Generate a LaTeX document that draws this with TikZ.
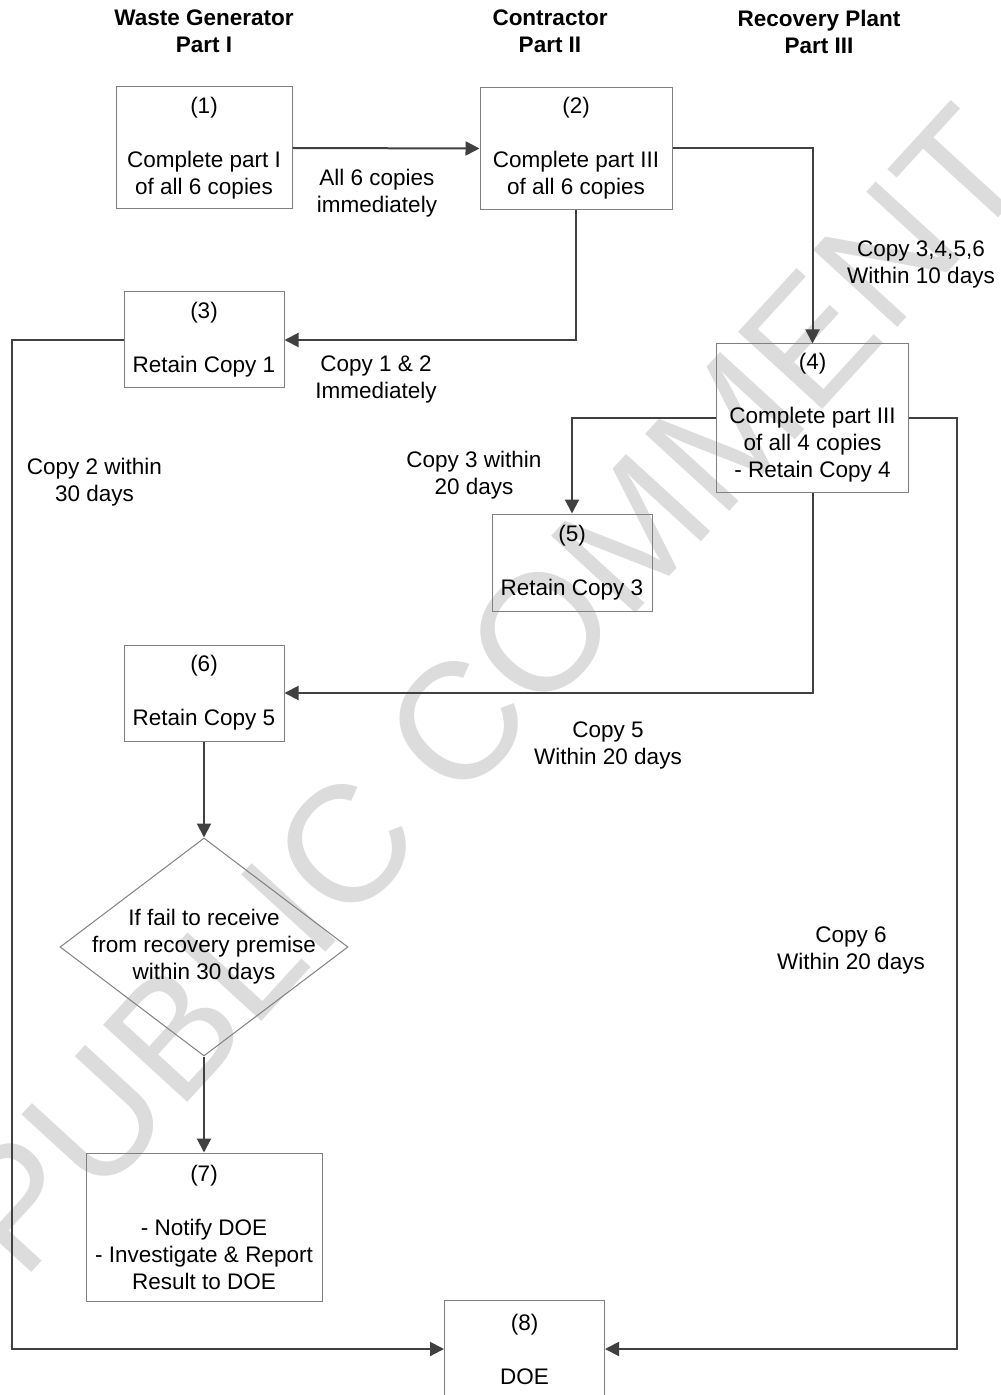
\documentclass[tikz,border=0pt]{standalone}
\usepackage{fontspec}
\setmainfont{Liberation Sans}
\usetikzlibrary{arrows.meta, positioning, shapes.geometric}
\definecolor{boxgray}{HTML}{808080}
\definecolor{linegray}{HTML}{404040}
\definecolor{markgray}{HTML}{DCDCDC}
\newcommand{\flowfont}{\fontsize{11.25pt}{13.5pt}\selectfont}

\begin{document}
\begin{tikzpicture}[x=0.5pt, y=-0.5pt,
  stepbox/.style={draw=boxgray, line width=0.5pt, align=center, inner sep=0pt, font=\flowfont},
  decision/.style={diamond, draw=boxgray, line width=0.5pt, inner sep=0pt,
    minimum width=144pt, minimum height=109pt},
  note/.style={align=center, inner sep=0pt, font=\flowfont},
  header/.style={align=center, inner sep=0pt, font=\flowfont\bfseries},
  flow/.style={draw=linegray, line width=1pt, -{Triangle[length=7pt, width=7pt]}}]
\useasboundingbox (0,0) rectangle (1000,1395);
\clip (0,0) rectangle (1000,1395);

% watermark
\node[text=markgray, font=\fontsize{83pt}{90pt}\selectfont, rotate=47.5, inner sep=0pt]
  (mark) at (488,690) {PUBLIC COMMENT};

% column headers
\node[header] (hgen) at (204,31.5) {Waste Generator\\Part I};
\node[header] (hcon) at (550,31.5) {Contractor\\Part II};
\node[header] (hrec) at (819,31.5) {Recovery Plant\\Part III};

% steps
\node[stepbox, minimum width=88pt, minimum height=61pt] (b1) at (204,148)
  {(1)\\[13.5pt]Complete part I\\of all 6 copies};
\node[stepbox, minimum width=96pt, minimum height=61pt] (b2) at (576,148.5)
  {(2)\\[13.5pt]Complete part III\\of all 6 copies};
\node[stepbox, minimum width=80pt, minimum height=48pt] (b3) at (204,340)
  {(3)\\[13.5pt]Retain Copy 1};
\node[stepbox, minimum width=96pt, minimum height=74pt] (b4) at (812.5,418)
  {(4)\\[13.5pt]Complete part III\\of all 4 copies\\- Retain Copy 4};
\node[stepbox, minimum width=80pt, minimum height=48.5pt] (b5) at (572,562.5)
  {(5)\\[13.5pt]Retain Copy 3};
\node[stepbox, minimum width=80pt, minimum height=48pt] (b6) at (204,693)
  {(6)\\[13.5pt]Retain Copy 5};
\node[decision] (chk) at (204,947) {};
\node[note] (chktext) at (chk.center) {If fail to receive\\from recovery premise\\within 30 days};
\node[stepbox, minimum width=118pt, minimum height=74pt] (b7) at (204,1227)
  {(7)\\[13.5pt]- Notify DOE\\- Investigate \& Report\\Result to DOE};
\node[stepbox, minimum width=80pt, minimum height=48.5pt] (b8) at (524.5,1349)
  {(8)\\[13.5pt]DOE};

% free corners
\coordinate (lft) at (12,340);
\coordinate (rgt) at (957,418);

% connectors
\draw[flow] (b1.east) -- (b2.west);
\draw[flow] (b2.east) -| (b4.north);
\draw[flow] (b2.south) |- (b3.east);
\draw[flow] (b3.west) -- (lft) |- (b8.west);
\draw[flow] (b4.west) -| (b5.north);
\draw[flow] (b4.south) |- (b6.east);
\draw[flow] (b4.east) -- (rgt) |- (b8.east);
\draw[flow] (b6.south) -- (chk.north);
\draw[flow] (chk.south) -- (b7.north);

% connector labels
\node[note] (l12) at (377,193.5) {All 6 copies\\immediately};
\node[note] (l24) at (921,264) {Copy 3,4,5,6\\Within 10 days};
\node[note] (l23) at (376,379) {Copy 1 \& 2\\Immediately};
\node[note] (l38) at (94.5,482.5) {Copy 2 within\\30 days};
\node[note] (l45) at (474,475) {Copy 3 within\\20 days};
\node[note] (l46) at (608,745) {Copy 5\\Within 20 days};
\node[note] (l48) at (851,950.5) {Copy 6\\Within 20 days};
\end{tikzpicture}
\end{document}
